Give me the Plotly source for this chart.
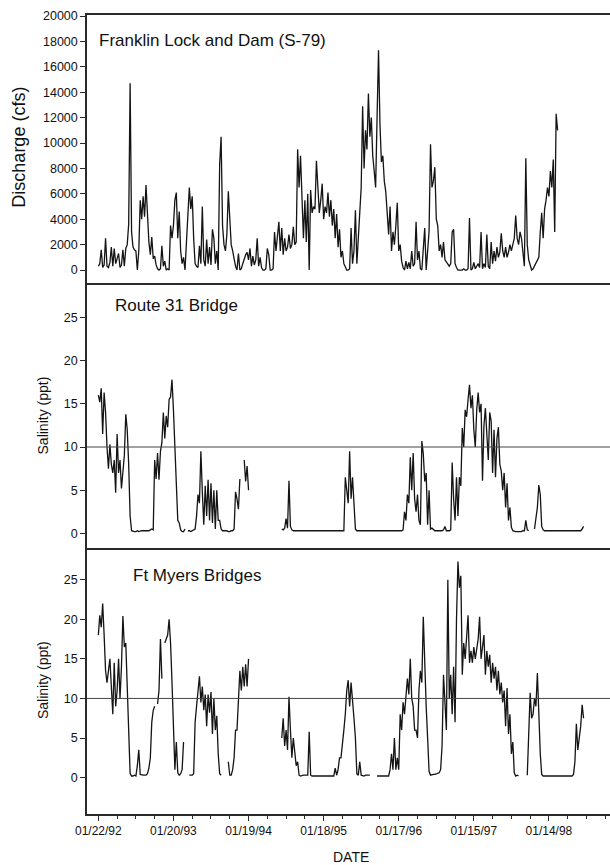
import pandas as pd
import plotly.graph_objects as go

# ---------------- data (weekly readings) ----------------
start_date = "1992-01-22"
step_days = 7

discharge_cfs = [
    300, 500, 1600, 200, 400, 2500, 300, 200, 600, 1800,
    300, 1700, 500, 1000, 1300, 200, 400, 1600, 300, 1700,
    2000, 3600, 14700, 3000, 1800, 1600, 1500, 0, 1500, 5500,
    4000, 5800, 4200, 6700, 3800, 2200, 1200, 2600, 900, 1100,
    400, 100, 0, 100, 1900, 300, 700, 0, 100, 0,
    3500, 2500, 3500, 5500, 6100, 2500, 4600, 1500, 500, 1000,
    0, 2500, 4000, 6500, 4800, 5800, 2500, 500, 300, 200,
    1900, 500, 5000, 800, 300, 2400, 500, 1800, 400, 3200,
    2500, 500, 1500, 0, 8300, 10500, 3500, 2000, 1500, 2800,
    6200, 4500, 2000, 1500, 800, 300, 0, 1300, 0, 100,
    500, 900, 1200, 1400, 800, 1700, 300, 1100, 400, 800,
    2500, 300, 1000, 200, 0, 0, 100, 1700, 1200, 0,
    0, 100, 3000, 1500, 2500, 3800, 1500, 3300, 1200, 2500,
    1500, 1800, 2800, 1700, 2000, 3400, 2000, 2200, 9500, 6500,
    9000, 6000, 2500, 5500, 2200, 6000, 0, 6300, 4500, 5000,
    4800, 8600, 6000, 4500, 5500, 6800, 4000, 5000, 4500, 6100,
    4200, 5500, 3500, 4800, 2500, 4400, 1800, 3200, 1000, 1500,
    500, 300, 0, 0, 100, 3300, 500, 1500, 4700, 500,
    2500, 5500, 6500, 12900, 8000, 11000, 9500, 13900, 10500, 12000,
    9000, 7800, 6500, 12000, 17300, 11500, 8500, 9000, 7000, 6200,
    4500, 2800, 5000, 1500, 3000, 2000, 3500, 5300, 1500, 2000,
    700, 200, 0, 700, 100, 600, 100, 1500, 300, 500,
    3800, 800, 1500, 100, 0, 1500, 3300, 0, 1500, 3000,
    9900, 6500, 7000, 8100, 4000, 3500, 1500, 2000, 1000, 2200,
    800, 600, 400, 300, 500, 3000, 3200, 500, 200, 0,
    0, 0, 0, 100, 0, 0, 100, 4100, 0, 100,
    600, 100, 300, 500, 200, 3000, 100, 500, 200, 2800,
    300, 100, 2200, 500, 1500, 700, 1800, 1000, 1400, 2900,
    1500, 1000, 1800, 1000, 1400, 2000, 1500, 2000, 2500, 4300,
    2500, 2000, 3000, 2500, 1500, 300, 8800, 2000, 800, 300,
    0, 100, 300, 500, 800, 1000, 3000, 4500, 2500, 4800,
    5500, 6500, 5800, 7800, 6500, 8700, 3000, 12300, 11000,
]

N = None
route31_ppt = [
    16, 15.2, 16.8, 11.5, 16.3, 14, 10, 7.5, 10.3, 8,
    7, 8.5, 4.7, 11.5, 7, 8.5, 5.2, 7, 9, 13.8,
    12, 8, 2, 0.3, 0.2, 0.2, 0.2, 0.3, 0.2, 0.3,
    0.3, 0.3, 0.3, 0.3, 0.3, 0.3, 0.4, 0.5, 0.4, 8.5,
    6.3, 9.3, 6.2, 9.5, 10.5, 14, 11, 13.6, 12.3, 15.5,
    15.8, 17.8, 14.3, 10, 5.3, 1.5, 1.2, 0.4, 0.2, 0.2,
    0.5, N, 0.3, 0.3, 0.2, 0.3, 0.3, 0.5, 2, 4.5,
    3.5, 9.5, 4.8, 1, 5.5, 2, 6.2, 1.5, 5.8, 1.2,
    5, 0.5, 5, 1.5, 1.5, 0.5, 0.3, 0.3, 0.3, 0.3,
    0.2, 0.2, 0.3, 0.3, 0.5, 4.8, 4, 2.8, 6.3, N,
    N, 8.5, 6, 7.8, 5, N, N, N, N, N,
    N, N, N, N, N, N, N, N, N, N,
    N, N, N, N, N, N, N, 0.5, 0.4, 0.6,
    1.7, 0.6, 6.1, 0.8, 0.4, 0.3, 0.3, 0.3, 0.3, 0.3,
    0.3, 0.3, 0.3, 0.3, 0.3, 0.3, 0.3, 0.3, 0.3, 0.3,
    0.3, 0.3, 0.3, 0.3, 0.3, 0.3, 0.3, 0.3, 0.3, 0.3,
    0.3, 0.3, 0.3, 0.3, 0.3, 0.3, 0.3, 0.3, 0.3, 0.3,
    0.3, 6.5, 5, 3.5, 9.5, 4, 6.5, 2.5, 0.5, 0.3,
    0.3, 0.3, 0.3, 0.3, 0.3, 0.3, 0.3, 0.3, 0.3, 0.3,
    0.3, 0.3, 0.3, 0.3, 0.3, 0.3, 0.3, 0.3, 0.3, 0.3,
    0.3, 0.3, 0.3, 0.3, 0.3, 0.3, 0.3, 0.3, 0.3, 0.3,
    0.3, 0.4, 2.5, 1.5, 4.5, 3.5, 8.8, 5, 9.3, 4,
    2.5, 4.5, 1.5, 1, 10.7, 9.2, 6, 7, 1, 5,
    0.5, 0.6, 0.4, 0.3, 0.3, 0.3, 0.3, 0.3, 0.3, 0.4,
    0.8, 0.3, 0.3, 0.3, 0.4, 8.2, 4, 1.5, 6.5, 2,
    6.5, 5.5, 12.2, 10, 14.3, 13.5, 15.5, 17.2, 14.5, 16,
    12, 10, 14.3, 16.3, 14, 15, 6.1, 12.5, 14.5, 11,
    8.5, 14, 13, 7, 12, 6.5, 11, 12.3, 8, 7.2,
    5, 7, 3, 5.8, 1.5, 3, 0.7, 0.3, 0.2, 0.2,
    0.2, 0.2, 0.2, 0.2, 0.3, 0.3, 1.5, 0.4, 0.3, N,
    N, N, 0.5, 1.8, 3, 5.6, 4.5, 0.8, 0.4, 0.3,
    0.3, 0.3, 0.3, 0.3, 0.3, 0.3, 0.3, 0.3, 0.3, 0.3,
    0.3, 0.3, 0.3, 0.3, 0.3, 0.3, 0.3, 0.3, 0.3, 0.3,
    0.3, 0.3, 0.3, 0.3, 0.3, 0.5, 0.8,
]

ftmyers_ppt = [
    18, 20.5, 19, 22, 18, 13.5, 12, 13.5, 15, 11.5,
    8, 14.5, 9, 11, 15, 10, 14, 20.4, 16.5, 17,
    12, 6, 0.5, 0.2, 0.2, 0.3, 0.2, 1.5, 3.5, 0.4,
    0.3, 0.3, 0.3, 0.3, 0.5, 1.2, 2.5, 7, 8.5, 9,
    N, 9.3, 11, 17.5, 12.5, N, 17, 17.5, 18, 20,
    17, 12, 7.5, 1, 4.5, 0.6, 0.3, 0.5, 1, 4.5,
    N, N, N, 0.3, 0.3, 0.3, 0.5, 7, 9, 11,
    12.8, 9.5, 11.5, 8.5, 10.5, 6.5, 10.5, 8.2, 10.8, 5.5,
    10, 6, 7.8, 3, 0.5, 0.3, N, N, N, N,
    2, 0.3, 0.3, 1, 2.5, 6, 6, 9, 13.5, 11,
    14, 11.5, 14.3, 11.5, 15, N, N, N, N, N,
    N, N, N, N, N, N, N, N, N, N,
    N, N, N, N, N, N, N, 5, 7.5, 4,
    6, 3.5, 10.2, 6, 2.5, 5, 3, 1.5, 2, 0.3,
    0.2, 0.3, 0.3, 0.3, 0.3, 0.3, 5.8, 0.3, 0.2, 0.2,
    0.2, 0.2, 0.2, 0.2, 0.2, 0.2, 0.2, 0.2, 0.2, 0.2,
    0.2, 0.2, 0.2, 0.2, 1.2, 0.3, 1, 2.5, 2.5, 4,
    6, 8, 11, 12.3, 9, 12, 9, 7.5, 5, 0.5,
    0.3, 2, 0.3, 0.2, 0.2, 0.3, 0.3, 0.3, 0.3, N,
    N, N, N, 0.2, 0.2, 0.2, 0.2, 0.2, 0.2, 0.2,
    0.2, 0.2, 1, 3, 1, 5, 1, 2.5, 1, 8,
    6, 9.5, 8, 10, 12.5, 10.5, 15, 10, 9, 6,
    6, 5, 11, 13.5, 12, 20.3, 14, 9, 5, 0.8,
    0.3, 0.4, 0.4, 0.4, 0.5, 0.5, 0.6, 1, 4, 13,
    9, 6, 25, 10, 13, 8, 14, 7, 20, 27.3,
    24, 25.5, 13, 17, 15, 17.5, 20.5, 14.5, 16, 14.5,
    16.5, 15, 16, 17.5, 20.3, 15, 16.5, 18, 13, 16,
    14, 15.5, 12, 14.5, 12.5, 14, 11, 13.5, 10.5, 12,
    9.5, 11, 6.5, 11.3, 5.5, 8, 3, 4.5, 0.6, 0.2,
    0.3, 0.2, N, N, N, N, N, 0.3, 5, 10.7,
    7.5, 8, 10, 9, 13.2, 7, 3, 0.4, 0.2, 0.2,
    0.2, 0.2, 0.2, 0.2, 0.2, 0.2, 0.2, 0.2, 0.2, 0.2,
    0.2, 0.2, 0.2, 0.2, 0.2, 0.2, 0.2, 0.2, 0.2, 0.4,
    2, 6.8, 3.5, 5, 6.5, 9.2, 7.5,
]

tick_dates = ["1992-01-22", "1993-01-20", "1994-01-19", "1995-01-18",
              "1996-01-17", "1997-01-15", "1998-01-14"]
tick_labels = ["01/22/92", "01/20/93", "01/19/94", "01/18/95",
               "01/17/96", "01/15/97", "01/14/98"]
discharge_ticks = list(range(0, 20001, 2000))
salinity_ticks = [0, 5, 10, 15, 20, 25]
salinity_threshold = 10
panel_titles = ["Franklin Lock and Dam (S-79)", "Route 31 Bridge", "Ft Myers Bridges"]

# ---------------- figure ----------------
FONT = "Liberation Sans, Arial, Helvetica, sans-serif"
INK = "#141414"
FRAME = "#2a2a2a"


def weekly_dates(n):
    return pd.date_range(start_date, periods=n, freq=f"{step_days}D")


fig = go.Figure()
series = [discharge_cfs, route31_ppt, ftmyers_ppt]
for k, vals in enumerate(series):
    fig.add_trace(go.Scatter(
        x=weekly_dates(len(vals)), y=vals, mode="lines",
        line=dict(color=INK, width=1.3), connectgaps=False,
        xaxis="x" if k == 0 else f"x{k+1}",
        yaxis="y" if k == 0 else f"y{k+1}",
        showlegend=False, hoverinfo="skip",
    ))

x_range = ["1991-11-28", "1998-11-06"]
common_x = dict(range=x_range, showline=True, linecolor=FRAME,
                linewidth=1.5, showgrid=False, zeroline=False, type="date")
common_y = dict(showline=True, linecolor=FRAME, linewidth=1.5, showgrid=False,
                zeroline=False, ticks="outside", ticklen=5, tickwidth=1.2,
                tickcolor=FRAME, tickformat="d",
                tickfont=dict(family=FONT, size=12.5, color="#111"))

d_low, d_mid = 0.3329, 0.6646

fig.update_layout(
    width=610, height=865,
    margin=dict(l=87, r=0, t=15, b=51),
    paper_bgcolor="white", plot_bgcolor="white",
    font=dict(family=FONT, color="#111"),
    xaxis=dict(common_x, anchor="y", mirror=True, showticklabels=False, ticks=""),
    xaxis2=dict(common_x, anchor="y2", matches="x", showticklabels=False, ticks=""),
    xaxis3=dict(common_x, anchor="y3", matches="x", ticks="outside", ticklen=5,
                tickwidth=1.2, tickcolor=FRAME, tickmode="array",
                tickvals=tick_dates, ticktext=tick_labels,
                tickfont=dict(family=FONT, size=12, color="#111"),
                minor=dict(ticks="outside", ticklen=3, tickwidth=1, tickcolor=FRAME,
                           tick0=tick_dates[0], dtick=91 * 86400000, showgrid=False)),
    yaxis=dict(common_y, domain=[d_mid, 1], range=[-1020, 20080],
               tickmode="array", tickvals=discharge_ticks),
    yaxis2=dict(common_y, domain=[d_low, d_mid], range=[-1.7, 29.0],
                tickmode="array", tickvals=salinity_ticks),
    yaxis3=dict(common_y, domain=[0, d_low], range=[-4.6, 29.0],
                tickmode="array", tickvals=salinity_ticks),
)

for yref in ["y2", "y3"]:
    fig.add_shape(type="line", xref="paper", x0=0, x1=1, yref=yref,
                  y0=salinity_threshold, y1=salinity_threshold,
                  line=dict(color="#444", width=1))

# panel titles
title_pos = [(0.019, 0.9675), (0.0503, 0.637), (0.0841, 0.299)]
for text, (px, py) in zip(panel_titles, title_pos):
    fig.add_annotation(text=text, x=px, y=py, xref="paper", yref="paper",
                       xanchor="left", yanchor="middle", showarrow=False,
                       font=dict(family=FONT, size=17, color="#111"))

# axis titles
fig.add_annotation(text="Discharge (cfs)", x=-0.130, y=0.834, xref="paper", yref="paper",
                   textangle=-90, showarrow=False, xanchor="center", yanchor="middle",
                   font=dict(family=FONT, size=18, color="#111"))
for py in [0.4988, 0.1677]:
    fig.add_annotation(text="Salinity (ppt)", x=-0.0841, y=py, xref="paper", yref="paper",
                       textangle=-90, showarrow=False, xanchor="center", yanchor="middle",
                       font=dict(family=FONT, size=14, color="#111"))
fig.add_annotation(text="DATE", x=0.505, y=-0.0535, xref="paper", yref="paper",
                   showarrow=False, xanchor="center", yanchor="middle",
                   font=dict(family=FONT, size=14, color="#111"))

fig.write_html("out.html")
